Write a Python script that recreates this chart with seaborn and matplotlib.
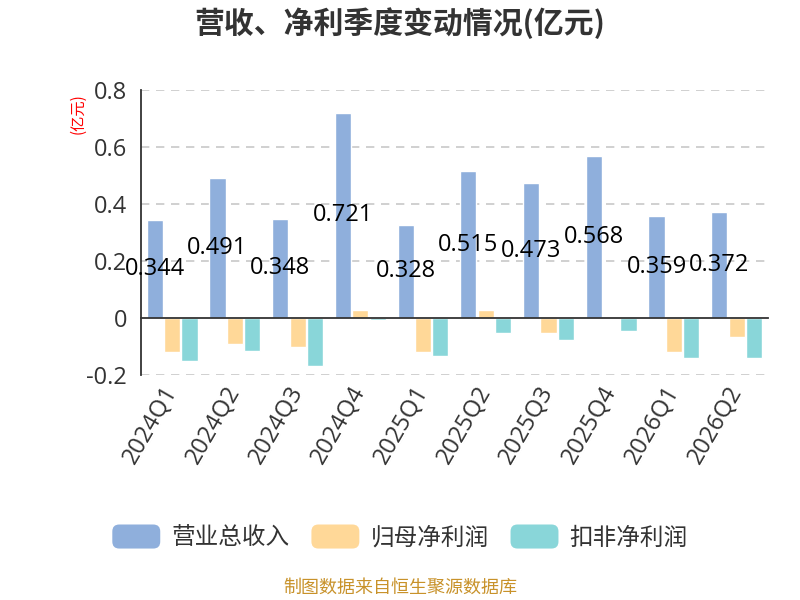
import pandas as pd
import matplotlib
matplotlib.use("Agg")
import matplotlib.pyplot as plt
import seaborn as sns
from matplotlib.patches import FancyBboxPatch
from matplotlib.legend_handler import HandlerPatch

# data
quarters = ["2024Q1", "2024Q2", "2024Q3", "2024Q4", "2025Q1",
            "2025Q2", "2025Q3", "2025Q4", "2026Q1", "2026Q2"]
revenue = [0.344, 0.491, 0.348, 0.721, 0.328, 0.515, 0.473, 0.568, 0.359, 0.372]
net_profit = [-0.120, -0.090, -0.102, 0.029, -0.120, 0.027, -0.051, -0.002, -0.118, -0.067]
deducted_profit = [-0.151, -0.117, -0.169, -0.007, -0.132, -0.054, -0.076, -0.044, -0.141, -0.141]
series_names = ["营业总收入", "归母净利润", "扣非净利润"]
colors = ["#8fafdc", "#ffd898", "#89d6d9"]

df = pd.DataFrame({"季度": quarters, series_names[0]: revenue,
                   series_names[1]: net_profit, series_names[2]: deducted_profit})
long_df = df.melt(id_vars="季度", var_name="指标", value_name="值")

sns.set_style("white")
plt.rcParams['font.family'] = ['Open Sans', 'Noto Sans CJK SC', 'DejaVu Sans']
cjk = ['Noto Sans CJK SC', 'DejaVu Sans']

fig = plt.figure(figsize=(8, 6), dpi=100)
ax = fig.add_axes([0.176, 0.375, 0.784, 0.475])

sns.barplot(data=long_df, x="季度", y="值", hue="指标", palette=colors,
            width=0.83, gap=0.07, ax=ax, legend=False, saturation=1)

ax.set_ylim(-0.2, 0.8)
ax.set_xlim(-0.5, len(quarters) - 0.5)
ax.set_yticks([-0.2, 0, 0.2, 0.4, 0.6, 0.8])
ax.set_yticklabels(["-0.2", "0", "0.2", "0.4", "0.6", "0.8"])
ax.set_xlabel("")
ax.set_ylabel("")

# grid lines
for v in [-0.2, 0.2, 0.4, 0.6, 0.8]:
    ax.axhline(v, color="#c8c8c8", lw=1.2, ls=(0, (5, 4)), zorder=0)

for s in ["top", "right"]:
    ax.spines[s].set_visible(False)
ax.spines["left"].set_color("#333333")
ax.spines["left"].set_linewidth(1.3)
ax.spines["bottom"].set_position(("data", 0))
ax.spines["bottom"].set_color("#333333")
ax.spines["bottom"].set_linewidth(1.3)

ax.set_xticks([i - 0.5 for i in range(len(quarters) + 1)], minor=True)
ax.tick_params(axis="x", which="minor", length=6, width=1.3, color="#333333", direction="out")
ax.tick_params(axis="x", which="major", length=0, pad=50, labelsize=17, labelcolor="#333333")
ax.tick_params(axis="y", length=5, width=1.3, color="#333333", labelsize=17, labelcolor="#333333", pad=5)
for lab in ax.get_xticklabels():
    lab.set_rotation(60)
    lab.set_ha("right")
    lab.set_va("center")
    lab.set_rotation_mode("anchor")

# value labels on revenue bars, at bar middle
for bar, val in zip(ax.containers[0], revenue):
    ax.text(bar.get_x() + bar.get_width() / 2, val / 2, f"{val:g}",
            ha="center", va="center", fontsize=17, color="#000000", zorder=5)

fig.text(0.5, 0.962, "营收、净利季度变动情况(亿元)", ha="center", va="center",
         fontsize=21.5, fontweight="bold", color="#333333", family=cjk)
fig.text(0.098, 0.81, "(亿元)", ha="center", va="center", rotation=90,
         fontsize=11, color="red", family=cjk)
fig.text(0.5, 0.02, "制图数据来自恒生聚源数据库", ha="center", va="center",
         fontsize=13, color="#c8922a", family=cjk)


class RoundHandler(HandlerPatch):
    def create_artists(self, legend, orig_handle, xdescent, ydescent, width, height, fontsize, trans):
        p = FancyBboxPatch((-xdescent, -ydescent), width, height,
                           boxstyle="round,pad=0,rounding_size=5",
                           facecolor=orig_handle.get_facecolor(), edgecolor="none", transform=trans)
        return [p]


handles = [plt.Rectangle((0, 0), 1, 1, facecolor=c) for c in colors]
fig.legend(handles, series_names, loc="center", bbox_to_anchor=(0.5, 0.105), ncol=3,
           frameon=False, handlelength=2.03, handleheight=1.19,
           handletextpad=0.47, columnspacing=0.93, labelcolor="#333333",
           prop={"family": cjk, "size": 17},
           handler_map={plt.Rectangle: RoundHandler()})

fig.savefig("out.png", dpi=100)
